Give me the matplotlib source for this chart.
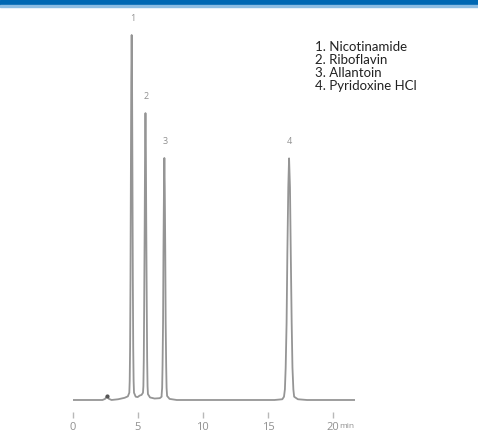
import matplotlib.pyplot as plt
from matplotlib.patches import Rectangle

plt.rcParams['font.family'] = ['Open Sans', 'DejaVu Sans']

# chromatogram trace (time in min, signal in % of peak 1)
time = [0.0, 2.30, 2.50, 2.60, 2.65, 2.70, 2.80, 3.00, 3.50, 4.00, 4.25,
        4.36, 4.39, 4.42, 4.45, 4.48, 4.51, 4.54, 4.57, 4.60, 4.63, 4.66, 4.69, 4.72,
        4.85, 5.00, 5.15, 5.30,
        5.41, 5.44, 5.47, 5.50, 5.54, 5.57, 5.60, 5.63, 5.66, 5.70, 5.73, 5.76, 5.79,
        5.95, 6.30, 6.70, 6.84,
        6.84, 6.88, 6.91, 6.95, 6.98, 7.02, 7.05, 7.08, 7.12, 7.15, 7.19, 7.22, 7.26,
        7.45, 8.00, 12.0, 15.5, 16.10,
        16.23, 16.30, 16.36, 16.43, 16.49, 16.56, 16.62, 16.69, 16.75, 16.82, 16.88, 16.95, 17.01,
        17.30, 18.0, 21.7]
signal = [0.0, 0.0, 0.3, 0.8, 1.0, 0.8, 0.3, 0.0, 0.2, 0.6, 1.0,
          2.0, 5.2, 14.3, 32.8, 61.5, 88.2, 100.0, 88.2, 61.5, 32.8, 14.3, 5.2, 2.0,
          0.9, 0.8, 1.2, 1.4,
          2.0, 3.8, 11.0, 25.5, 48.3, 69.3, 78.6, 69.3, 48.3, 25.5, 11.0, 3.8, 1.6,
          0.7, 0.4, 0.5, 0.9,
          1.4, 3.3, 9.2, 21.4, 40.5, 58.4, 66.3, 58.4, 40.5, 21.4, 9.2, 3.3, 1.1,
          0.3, 0.0, 0.0, 0.0, 0.2,
          0.9, 2.9, 8.9, 21.2, 40.4, 58.3, 66.2, 58.3, 40.4, 21.2, 8.9, 2.9, 0.9,
          0.2, 0.0, 0.0]

peak_labels = ['1', '2', '3', '4']
peak_times = [4.54, 5.60, 7.05, 16.62]
peak_heights = [100.0, 78.6, 66.3, 66.2]
compounds = ['1. Nicotinamide', '2. Riboflavin', '3. Allantoin', '4. Pyridoxine HCl']
ticks = [0, 5, 10, 15, 20]

W, H = 478, 434
fig = plt.figure(figsize=(W / 100, H / 100), dpi=100)

# blue header band
fig.patches.append(Rectangle((0, 1 - 5 / H), 1, 5 / H, transform=fig.transFigure,
                             color='#0068b3', zorder=5))
fig.patches.append(Rectangle((0, 1 - 6.5 / H), 1, 1.5 / H, transform=fig.transFigure,
                             color='#8dbde3', zorder=5))

ax = fig.add_axes([72.5 / W, 22 / H, (355 - 72.5) / W, 402 / H])
ax.plot(time, signal, color='#959595', lw=1.3, solid_joinstyle='round')
ax.plot([2.65], [1.0], marker='o', ms=2, color='#555555')

for lab, t, h in zip(peak_labels, peak_times, peak_heights):
    ax.annotate(lab, xy=(t, h), xytext=(0.5, 9), textcoords='offset points',
                ha='center', va='bottom', fontsize=6.5, color='#909090')

ax.set_xlim(0, 21.68)
ax.set_ylim(-3.29, 106.85)
ax.set_xticks(ticks)
ax.set_xticklabels([str(t) for t in ticks])
ax.set_yticks([])
for s in ax.spines.values():
    s.set_visible(False)
ax.tick_params(axis='x', length=4.3, width=1, color='#b8b8b8', pad=2.9,
               labelsize=8, labelcolor='#909090')
ax.text(20.45, -0.035, 'min', transform=ax.get_xaxis_transform(), ha='left',
        va='center', fontsize=6, color='#909090')

for i, c in enumerate(compounds):
    fig.text(315 / W, 1 - (47 + 13 * i) / H, c, ha='left', va='center',
             fontsize=9.5, color='#222222', family=['Lato', 'DejaVu Sans'])

fig.savefig('out.png', dpi=100)
